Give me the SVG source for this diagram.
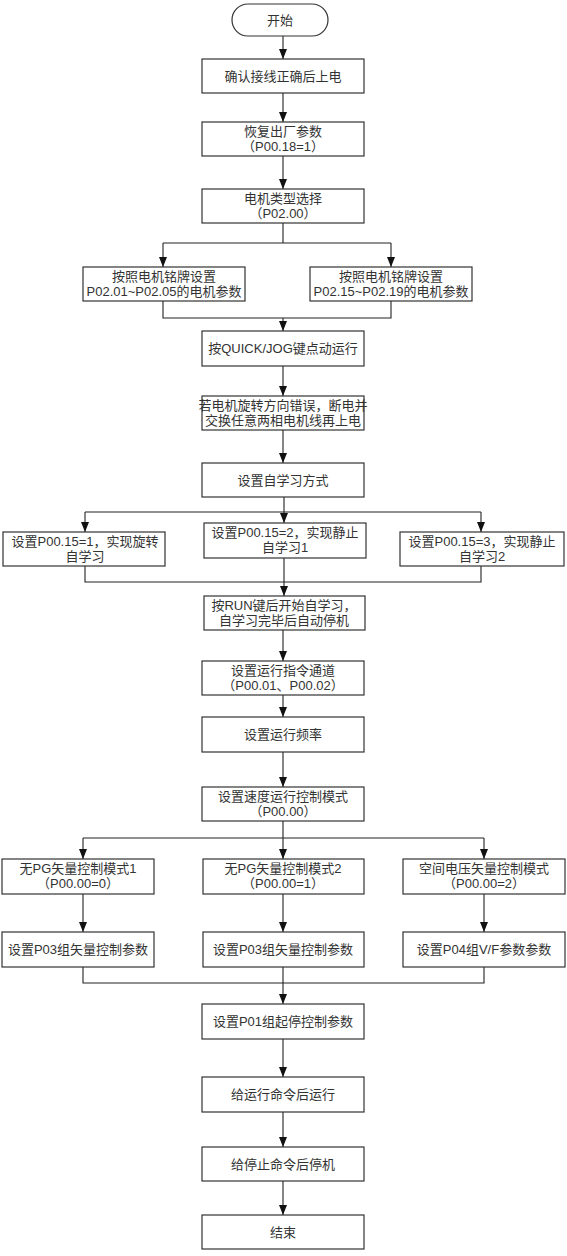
<svg xmlns="http://www.w3.org/2000/svg" width="567" height="1256" viewBox="0 0 567 1256">
<style>
.b{fill:#fff;stroke:#333;stroke-width:1.2}
.t{font-family:"Liberation Sans","Noto Sans CJK SC",sans-serif;font-size:13px;fill:#333;text-anchor:middle}
.c{fill:none;stroke:#222;stroke-width:1.1}
.a{marker-end:url(#ah)}
</style>
<defs>
<marker id="ah" markerUnits="userSpaceOnUse" markerWidth="10" markerHeight="10" viewBox="0 0 10 8" refX="10" refY="4" orient="auto">
<path d="M0,0 L10,4 L0,8 z" fill="#111"/>
</marker>
</defs>
<rect width="567" height="1256" fill="#fff"/>
<g id="connectors">
<path class="c a" d="M283,36 V59"/>
<path class="c a" d="M283,93 V122"/>
<path class="c a" d="M283,156 V189"/>
<path class="c" d="M283,223 V243 M163,243 H391"/>
<path class="c a" d="M163,243 V267"/>
<path class="c a" d="M391,243 V267"/>
<path class="c" d="M163,301 V318 H391 V301"/>
<path class="c a" d="M283,318 V331"/>
<path class="c a" d="M283,366 V396"/>
<path class="c a" d="M283,430 V463"/>
<path class="c" d="M284,497 V512 M85,512 H481"/>
<path class="c a" d="M85,512 V532"/>
<path class="c a" d="M284,512 V523"/>
<path class="c a" d="M481,512 V532"/>
<path class="c" d="M85,566 V582 H481 V566"/>
<path class="c a" d="M284,558 V596"/>
<path class="c a" d="M283,630 V661"/>
<path class="c a" d="M283,695 V717"/>
<path class="c a" d="M283,752 V787"/>
<path class="c" d="M283,821 V838 M83,838 H484"/>
<path class="c a" d="M83,838 V859"/>
<path class="c a" d="M283,838 V859"/>
<path class="c a" d="M484,838 V859"/>
<path class="c a" d="M83,894 V932"/>
<path class="c a" d="M283,894 V932"/>
<path class="c a" d="M484,894 V932"/>
<path class="c" d="M83,967 V983 H484 V967"/>
<path class="c a" d="M283,967 V1004"/>
<path class="c a" d="M283,1039 V1077"/>
<path class="c a" d="M283,1112 V1147"/>
<path class="c a" d="M283,1181 V1215"/>
</g>
<g id="start"><rect class="b" x="232" y="4" width="96" height="32" rx="16"/><text class="t" x="280" y="25">开始</text></g>
<g id="n1"><rect class="b" x="202" y="59" width="162" height="34"/><text class="t" x="283" y="81">确认接线正确后上电</text></g>
<g id="n2"><rect class="b" x="202" y="122" width="162" height="34"/><text class="t" x="283" y="136">恢复出厂参数</text><text class="t" x="283" y="151">（P00.18=1）</text></g>
<g id="n3"><rect class="b" x="202" y="189" width="162" height="34"/><text class="t" x="283" y="203">电机类型选择</text><text class="t" x="283" y="218">（P02.00）</text></g>
<g id="n4a"><rect class="b" x="83" y="267" width="162" height="34"/><text class="t" x="164" y="281">按照电机铭牌设置</text><text class="t" x="164" y="296">P02.01~P02.05的电机参数</text></g>
<g id="n4b"><rect class="b" x="310" y="267" width="162" height="34"/><text class="t" x="391" y="281">按照电机铭牌设置</text><text class="t" x="391" y="296">P02.15~P02.19的电机参数</text></g>
<g id="n5"><rect class="b" x="202" y="331" width="162" height="35"/><text class="t" x="283" y="353">按QUICK/JOG键点动运行</text></g>
<g id="n6"><rect class="b" x="202" y="396" width="162" height="34"/><text class="t" x="283" y="410">若电机旋转方向错误，断电并</text><text class="t" x="283" y="425">交换任意两相电机线再上电</text></g>
<g id="n7"><rect class="b" x="202" y="463" width="162" height="34"/><text class="t" x="283" y="485">设置自学习方式</text></g>
<g id="n8a"><rect class="b" x="3" y="532" width="162" height="34"/><text class="t" x="85" y="546">设置P00.15=1，实现旋转</text><text class="t" x="85" y="561">自学习</text></g>
<g id="n8b"><rect class="b" x="204" y="523" width="162" height="35"/><text class="t" x="285" y="537">设置P00.15=2，实现静止</text><text class="t" x="285" y="552">自学习1</text></g>
<g id="n8c"><rect class="b" x="400" y="532" width="164" height="34"/><text class="t" x="482" y="546">设置P00.15=3，实现静止</text><text class="t" x="482" y="561">自学习2</text></g>
<g id="n9"><rect class="b" x="204" y="596" width="161" height="34"/><text class="t" x="284" y="610">按RUN键后开始自学习，</text><text class="t" x="284" y="625">自学习完毕后自动停机</text></g>
<g id="n10"><rect class="b" x="202" y="661" width="162" height="34"/><text class="t" x="283" y="675">设置运行指令通道</text><text class="t" x="283" y="690">（P00.01、P00.02）</text></g>
<g id="n11"><rect class="b" x="202" y="717" width="162" height="35"/><text class="t" x="283" y="739">设置运行频率</text></g>
<g id="n12"><rect class="b" x="202" y="787" width="162" height="34"/><text class="t" x="283" y="801">设置速度运行控制模式</text><text class="t" x="283" y="816">（P00.00）</text></g>
<g id="n13a"><rect class="b" x="2" y="859" width="152" height="35"/><text class="t" x="78" y="873">无PG矢量控制模式1</text><text class="t" x="78" y="888">（P00.00=0）</text></g>
<g id="n13b"><rect class="b" x="203" y="859" width="161" height="35"/><text class="t" x="283" y="873">无PG矢量控制模式2</text><text class="t" x="283" y="888">（P00.00=1）</text></g>
<g id="n13c"><rect class="b" x="403" y="859" width="162" height="35"/><text class="t" x="484" y="873">空间电压矢量控制模式</text><text class="t" x="484" y="888">（P00.00=2）</text></g>
<g id="n14a"><rect class="b" x="2" y="932" width="152" height="35"/><text class="t" x="78" y="954">设置P03组矢量控制参数</text></g>
<g id="n14b"><rect class="b" x="203" y="932" width="161" height="35"/><text class="t" x="283" y="954">设置P03组矢量控制参数</text></g>
<g id="n14c"><rect class="b" x="403" y="932" width="162" height="35"/><text class="t" x="484" y="954">设置P04组V/F参数参数</text></g>
<g id="n15"><rect class="b" x="202" y="1004" width="162" height="35"/><text class="t" x="283" y="1026">设置P01组起停控制参数</text></g>
<g id="n16"><rect class="b" x="202" y="1077" width="162" height="35"/><text class="t" x="283" y="1099">给运行命令后运行</text></g>
<g id="n17"><rect class="b" x="202" y="1147" width="162" height="34"/><text class="t" x="283" y="1169">给停止命令后停机</text></g>
<g id="n18"><rect class="b" x="202" y="1215" width="162" height="34"/><text class="t" x="283" y="1237">结束</text></g>
</svg>
